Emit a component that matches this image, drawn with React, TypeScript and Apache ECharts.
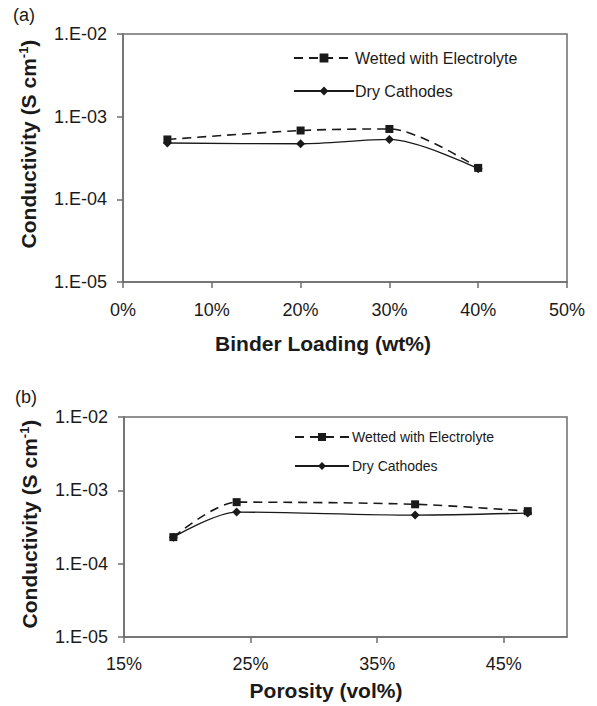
import React, { useEffect, useRef } from "react";
import * as echarts from "echarts";

// Panel (a): conductivity vs binder loading
const binderLoading = [5, 20, 30, 40];
const wettedA = [5.3e-4, 6.8e-4, 7.1e-4, 2.4e-4];
const dryA = [4.8e-4, 4.7e-4, 5.3e-4, 2.35e-4];

// Panel (b): conductivity vs porosity
const porosity = [18.9, 23.9, 38.0, 46.9];
const wettedB = [2.3e-4, 6.9e-4, 6.45e-4, 5.2e-4];
const dryB = [2.3e-4, 5.05e-4, 4.6e-4, 4.9e-4];

const seriesNames = ["Wetted with Electrolyte", "Dry Cathodes"];
const porosityTicks = [15, 25, 35, 45];

const FONT = "'Liberation Sans', Arial, sans-serif";
const AXIS = "#6e6e6e";
const INK = "#1a1a1a";

const fmtLog = (v: number) => {
  const e = Math.round(Math.log10(v));
  return "1.E-" + String(-e).padStart(2, "0");
};

export default function App() {
  const ref = useRef<HTMLDivElement>(null);
  useEffect(() => {
    document.body.style.margin = "0";
    const chart = echarts.init(ref.current!, null, { renderer: "svg" });
    const pair = (xs: number[], ys: number[]) => xs.map((x, i) => [x, ys[i]]);
    const yAxisBase = {
      type: "log" as const,
      logBase: 10,
      min: 1e-5,
      max: 1e-2,
      axisLine: { show: true, lineStyle: { color: AXIS, width: 1.5 } },
      axisTick: { show: true, inside: false, length: 6, lineStyle: { color: AXIS, width: 1.5 } },
      splitLine: { show: false },
      axisLabel: { formatter: fmtLog, fontSize: 18, color: INK, fontFamily: FONT, margin: 16 },
    };
    const lineStyleW = { color: INK, width: 1.6, type: [9, 6] as any };
    const lineStyleD = { color: INK, width: 1.3 };
    const mkSeries = (name: string, data: number[][], idx: number, wetted: boolean) => ({
      name,
      type: "line",
      xAxisIndex: idx,
      yAxisIndex: idx,
      data,
      smooth: 0.3,
      symbol: wetted ? "rect" : "diamond",
      symbolSize: wetted ? 8 : 9,
      itemStyle: { color: INK },
      lineStyle: wetted ? lineStyleW : lineStyleD,
      z: wetted ? 3 : 2,
    });
    const supRich = {
      t: { fontSize: 21, fontWeight: "bold", fontFamily: FONT, fill: INK },
      s: { fontSize: 13, fontWeight: "bold", fontFamily: FONT, fill: INK, padding: [0, 0, 10, 0] },
    };
    const yTitle = (cx: number, cy: number) => ({
      type: "text",
      x: cx,
      y: cy,
      rotation: Math.PI / 2,
      style: {
        text: "{t|Conductivity (S cm}{s|-1}{t|)}",
        rich: supRich,
        align: "center",
        verticalAlign: "middle",
        fill: INK,
      },
    });
    const plainText = (text: string, x: number, y: number, size: number, bold: boolean) => ({
      type: "text",
      x,
      y,
      style: {
        text,
        fontSize: size,
        fontWeight: bold ? "bold" : "normal",
        fontFamily: FONT,
        fill: INK,
        align: "center",
        verticalAlign: "middle",
      },
    });
    chart.setOption({
      animation: false,
      backgroundColor: "#fff",
      grid: [
        { left: 123, top: 34, width: 444, height: 248, show: true, borderColor: AXIS, borderWidth: 1.5, backgroundColor: "transparent" },
        { left: 124, top: 417, width: 443, height: 220, show: true, borderColor: AXIS, borderWidth: 1.5, backgroundColor: "transparent" },
      ],
      xAxis: [
        {
          type: "value",
          gridIndex: 0,
          min: 0,
          max: 50,
          interval: 10,
          axisLine: { show: true, lineStyle: { color: AXIS, width: 1.5 } },
          axisTick: { show: true, length: 6, lineStyle: { color: AXIS, width: 1.5 } },
          splitLine: { show: false },
          axisLabel: { formatter: (v: number) => v + "%", fontSize: 18, color: INK, fontFamily: FONT, margin: 19 },
        },
        {
          type: "value",
          gridIndex: 1,
          min: 15,
          max: 50,
          interval: 10,
          axisLine: { show: true, lineStyle: { color: AXIS, width: 1.5 } },
          axisTick: { show: true, length: 6, customValues: porosityTicks, lineStyle: { color: AXIS, width: 1.5 } },
          splitLine: { show: false },
          axisLabel: {
            customValues: porosityTicks,
            formatter: (v: number) => v + "%",
            fontSize: 18,
            color: INK,
            fontFamily: FONT,
            margin: 18,
          },
        },
      ],
      yAxis: [
        { ...yAxisBase, gridIndex: 0 },
        { ...yAxisBase, gridIndex: 1 },
      ],
      legend: [
        {
          orient: "vertical",
          left: 288,
          top: 45,
          itemWidth: 60,
          itemHeight: 11,
          itemGap: 17,
          textStyle: { fontSize: 16, lineHeight: 16, color: INK, fontFamily: FONT, padding: [0, 0, 0, -4] },
          data: seriesNames,
        },
        {
          orient: "vertical",
          left: 289,
          top: 425,
          itemWidth: 54,
          itemHeight: 10,
          itemGap: 15,
          textStyle: { fontSize: 14, lineHeight: 14, color: INK, fontFamily: FONT, padding: [0, 0, 0, -2] },
          data: seriesNames,
        },
      ],
      graphic: [
        plainText("(a)", 24, 15, 18, false),
        plainText("(b)", 26, 397, 18, false),
        plainText("Binder Loading (wt%)", 323, 343, 21, true),
        plainText("Porosity (vol%)", 326, 690, 21, true),
        yTitle(28, 144),
        yTitle(29, 524),
      ],
      series: [
        mkSeries(seriesNames[0], pair(binderLoading, wettedA), 0, true),
        mkSeries(seriesNames[1], pair(binderLoading, dryA), 0, false),
        mkSeries(seriesNames[0], pair(porosity, wettedB), 1, true),
        mkSeries(seriesNames[1], pair(porosity, dryB), 1, false),
      ],
    });
    return () => chart.dispose();
  }, []);
  return <div ref={ref} style={{ width: 597, height: 706 }} />;
}
